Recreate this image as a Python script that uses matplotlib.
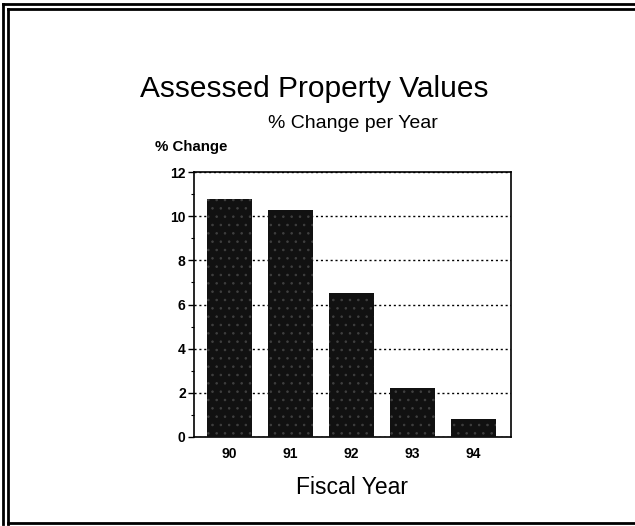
"""
Bar chart: Assessed Property Values, % change per fiscal year.
"""
import matplotlib.pyplot as plt
from matplotlib.lines import Line2D
from matplotlib.ticker import MultipleLocator
import numpy as np

FISCAL_YEARS = ["90", "91", "92", "93", "94"]
PCT_CHANGE = [10.8, 10.3, 6.5, 2.2, 0.8]
Y_TICKS = [0, 2, 4, 6, 8, 10, 12]

W, H = 635, 526


def plot(out_path="out.png"):
    plt.rcParams["font.family"] = ["Liberation Sans", "DejaVu Sans"]
    plt.rcParams["hatch.linewidth"] = 0.6

    fig = plt.figure(figsize=(W / 100, H / 100), dpi=100)
    ax = fig.add_axes([194 / W, 1 - 437 / H, 317 / W, 265 / H])

    x = np.arange(len(FISCAL_YEARS))
    ax.bar(x, PCT_CHANGE, 0.74, color="#111111", zorder=3)
    # grainy scan texture
    ax.bar(x, PCT_CHANGE, 0.74, fill=False, hatch="..", edgecolor="#404040",
           linewidth=0, zorder=3.5)

    ax.set_xlim(-0.58, len(x) - 1 + 0.62)
    ax.set_ylim(0, 12)
    ax.set_xticks(x)
    ax.set_xticklabels(FISCAL_YEARS, fontsize=10, fontweight="bold")
    ax.set_yticks(Y_TICKS)
    ax.set_yticklabels([str(v) for v in Y_TICKS], fontsize=10, fontweight="bold")
    ax.yaxis.set_minor_locator(MultipleLocator(1))
    ax.tick_params(axis="x", length=0, pad=7)
    ax.tick_params(axis="y", which="major", length=4, width=1, pad=2)
    ax.tick_params(axis="y", which="minor", length=2, width=0.8)
    ax.grid(axis="y", linestyle=(0, (1.5, 2)), color="black", linewidth=1.0, zorder=1)
    for s in ax.spines.values():
        s.set_linewidth(1.2)

    # titles and labels
    fig.text(314 / W, 1 - 97 / H, "Assessed Property Values", ha="center",
             va="baseline", fontsize=21.5)
    fig.text(353 / W, 1 - 128 / H, "% Change per Year", ha="center",
             va="baseline", fontsize=14)
    fig.text(155 / W, 1 - 151 / H, "% Change", ha="left", va="baseline",
             fontsize=10.8, fontweight="bold")
    fig.text(352 / W, 1 - 494 / H, "Fiscal Year", ha="center", va="baseline",
             fontsize=16.5)

    # page border (double line top/left, single bottom)
    frame = [
        ([3 / W, 3 / W], [1 - 4 / H, 2 / H]),
        ([8 / W, 8 / W], [1 - 9 / H, 2 / H]),
        ([3 / W, 1.0], [1 - 4 / H, 1 - 4 / H]),
        ([8 / W, 1.0], [1 - 9 / H, 1 - 9 / H]),
        ([8 / W, 1.0], [3 / H, 3 / H]),
    ]
    for xs, ys in frame:
        fig.add_artist(Line2D(xs, ys, color="black", linewidth=2.0,
                              transform=fig.transFigure))

    fig.savefig(out_path, dpi=100)
    plt.close(fig)


if __name__ == "__main__":
    plot()
